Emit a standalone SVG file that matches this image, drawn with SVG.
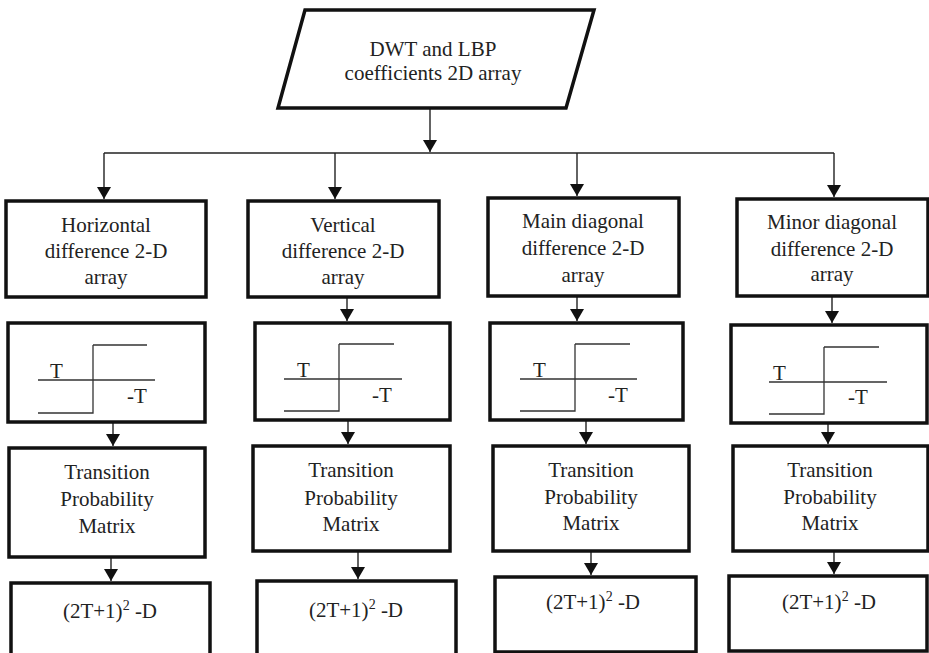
<svg xmlns="http://www.w3.org/2000/svg" width="929" height="653" viewBox="0 0 929 653">
<style>
.box{fill:#fff;stroke:#111;stroke-width:3.5}
.t{font-family:"Liberation Serif","Times New Roman",serif;font-size:21px;fill:#222}
.m{text-anchor:middle}
.c{fill:none;stroke:#222;stroke-width:1.4}
.s{fill:none;stroke:#333;stroke-width:1.3}
.sup{font-size:14px}
</style>
<defs>
<marker id="ah" markerUnits="userSpaceOnUse" markerWidth="14" markerHeight="14" refX="12" refY="7" orient="auto">
<path d="M0,0 L12,7 L0,14 Z" fill="#111"/>
</marker>
</defs>
<rect width="929" height="653" fill="#fff"/>
<g id="connectors">
<line class="c" x1="430" y1="108" x2="430" y2="152" marker-end="url(#ah)"/>
<line class="c" x1="104" y1="153" x2="834" y2="153"/>
<line class="c" x1="104" y1="153" x2="104" y2="199" marker-end="url(#ah)"/>
<line class="c" x1="335" y1="153" x2="335" y2="199" marker-end="url(#ah)"/>
<line class="c" x1="577" y1="153" x2="577" y2="196" marker-end="url(#ah)"/>
<line class="c" x1="834" y1="153" x2="834" y2="197" marker-end="url(#ah)"/>
<line class="c" x1="347" y1="297" x2="347" y2="321" marker-end="url(#ah)"/>
<line class="c" x1="577" y1="296" x2="577" y2="321" marker-end="url(#ah)"/>
<line class="c" x1="832" y1="296" x2="832" y2="323" marker-end="url(#ah)"/>
<line class="c" x1="113" y1="422" x2="113" y2="446" marker-end="url(#ah)"/>
<line class="c" x1="348" y1="420" x2="348" y2="444" marker-end="url(#ah)"/>
<line class="c" x1="586" y1="420" x2="586" y2="444" marker-end="url(#ah)"/>
<line class="c" x1="828" y1="423" x2="828" y2="444" marker-end="url(#ah)"/>
<line class="c" x1="111" y1="557" x2="111" y2="581" marker-end="url(#ah)"/>
<line class="c" x1="358" y1="551" x2="358" y2="579" marker-end="url(#ah)"/>
<line class="c" x1="591" y1="551" x2="591" y2="575" marker-end="url(#ah)"/>
<line class="c" x1="834" y1="551" x2="834" y2="574" marker-end="url(#ah)"/>
</g>
<g id="input">
<polygon class="box" points="305,10 594,10 566,108 278,108"/>
<text class="t m" x="433" y="56">DWT and LBP</text>
<text class="t m" x="433" y="80">coefficients 2D array</text>
</g>
<g id="horizontal">
<rect class="box" x="6" y="201" width="200" height="96"/>
<text class="t m" x="106" y="232">Horizontal</text>
<text class="t m" x="106" y="258">difference 2-D</text>
<text class="t m" x="106" y="284">array</text>
</g>
<g id="vertical">
<rect class="box" x="248" y="201" width="191" height="96"/>
<text class="t m" x="343" y="232">Vertical</text>
<text class="t m" x="343" y="258">difference 2-D</text>
<text class="t m" x="343" y="284">array</text>
</g>
<g id="main-diagonal">
<rect class="box" x="488" y="198" width="191" height="98"/>
<text class="t m" x="583" y="228">Main diagonal</text>
<text class="t m" x="583" y="255">difference 2-D</text>
<text class="t m" x="583" y="282">array</text>
</g>
<g id="minor-diagonal">
<rect class="box" x="737" y="199" width="191" height="97"/>
<text class="t m" x="832" y="229">Minor diagonal</text>
<text class="t m" x="832" y="256">difference 2-D</text>
<text class="t m" x="832" y="281">array</text>
</g>
<g id="threshold-1">
<rect class="box" x="8" y="323" width="197" height="99"/>
<path class="s" d="M38,380 H155 M93,345 H147 M93,345 V413 H38"/>
<text class="t" x="50" y="378">T</text>
<text class="t" x="127" y="403">-T</text>
</g>
<g id="threshold-2">
<rect class="box" x="255" y="323" width="195" height="97"/>
<path class="s" d="M284,379 H402 M339,344 H394 M339,344 V411 H284"/>
<text class="t" x="297" y="377">T</text>
<text class="t" x="372" y="402">-T</text>
</g>
<g id="threshold-3">
<rect class="box" x="490" y="323" width="193" height="97"/>
<path class="s" d="M520,379 H637 M575,344 H630 M575,344 V411 H520"/>
<text class="t" x="533" y="377">T</text>
<text class="t" x="608" y="402">-T</text>
</g>
<g id="threshold-4">
<rect class="box" x="731" y="325" width="196" height="98"/>
<path class="s" d="M769,382 H887 M824,347 H879 M824,347 V414 H769"/>
<text class="t" x="773" y="380">T</text>
<text class="t" x="848" y="404">-T</text>
</g>
<g id="tpm-1">
<rect class="box" x="9" y="448" width="196" height="109"/>
<text class="t m" x="107" y="479">Transition</text>
<text class="t m" x="107" y="506">Probability</text>
<text class="t m" x="107" y="533">Matrix</text>
</g>
<g id="tpm-2">
<rect class="box" x="253" y="446" width="197" height="105"/>
<text class="t m" x="351" y="477">Transition</text>
<text class="t m" x="351" y="505">Probability</text>
<text class="t m" x="351" y="531">Matrix</text>
</g>
<g id="tpm-3">
<rect class="box" x="493" y="446" width="196" height="105"/>
<text class="t m" x="591" y="477">Transition</text>
<text class="t m" x="591" y="504">Probability</text>
<text class="t m" x="591" y="530">Matrix</text>
</g>
<g id="tpm-4">
<rect class="box" x="733" y="446" width="195" height="105"/>
<text class="t m" x="830" y="477">Transition</text>
<text class="t m" x="830" y="504">Probability</text>
<text class="t m" x="830" y="530">Matrix</text>
</g>
<g id="result-1">
<rect class="box" x="11" y="583" width="199" height="80"/>
<text class="t m" x="110" y="618">(2T+1)<tspan class="sup" dy="-8">2</tspan><tspan dy="8"> -D</tspan></text>
</g>
<g id="result-2">
<rect class="box" x="257" y="581" width="199" height="80"/>
<text class="t m" x="356" y="617">(2T+1)<tspan class="sup" dy="-8">2</tspan><tspan dy="8"> -D</tspan></text>
</g>
<g id="result-3">
<rect class="box" x="495" y="577" width="201" height="75"/>
<text class="t m" x="593" y="609">(2T+1)<tspan class="sup" dy="-8">2</tspan><tspan dy="8"> -D</tspan></text>
</g>
<g id="result-4">
<rect class="box" x="729" y="576" width="198" height="75"/>
<text class="t m" x="829" y="609">(2T+1)<tspan class="sup" dy="-8">2</tspan><tspan dy="8"> -D</tspan></text>
</g>
</svg>
